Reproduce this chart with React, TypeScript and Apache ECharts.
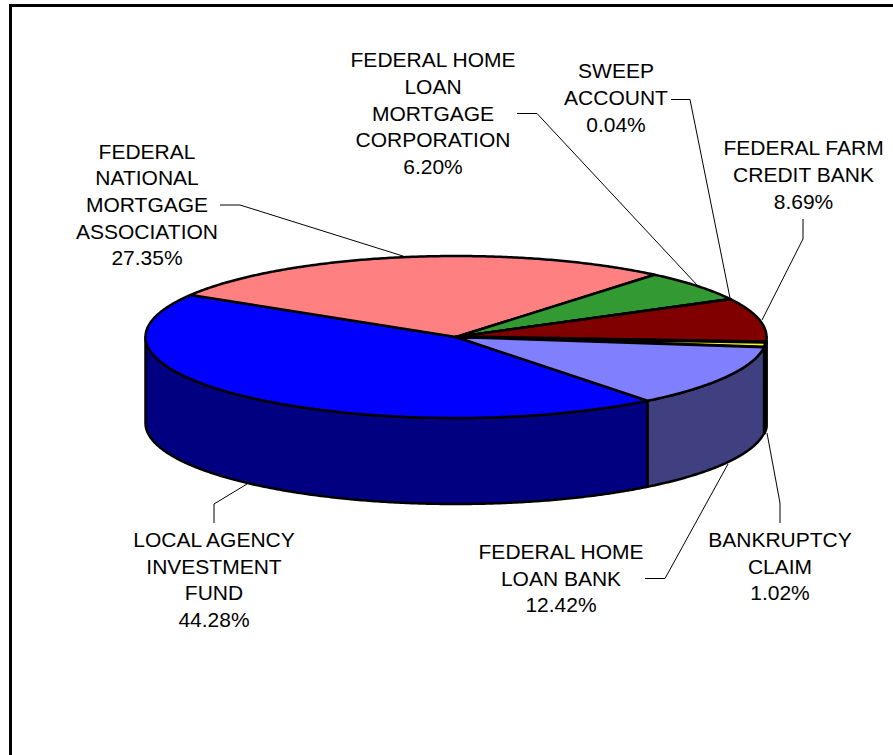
import React, { useEffect, useRef } from "react";
import * as echarts from "echarts";

const CATEGORY_LINES = [
  ["LOCAL AGENCY", "INVESTMENT", "FUND"],
  ["FEDERAL", "NATIONAL", "MORTGAGE", "ASSOCIATION"],
  ["FEDERAL HOME", "LOAN", "MORTGAGE", "CORPORATION"],
  ["SWEEP", "ACCOUNT"],
  ["FEDERAL FARM", "CREDIT BANK"],
  ["BANKRUPTCY", "CLAIM"],
  ["FEDERAL HOME", "LOAN BANK"],
];
const VALUES = [44.28, 27.35, 6.2, 0.04, 8.69, 1.02, 12.42];
const TOP_COLORS = ["#0000ff", "#ff8080", "#339933", "#00ffff", "#800000", "#ffff00", "#8080ff"];
const SIDE_COLORS = ["#000080", "#804040", "#1a4d1a", "#008080", "#400000", "#808000", "#404080"];
const EDGE_WIDTHS = [2.5, 2.5, 2.5, 2.5, 2.5, 3.5, 2.5];

// Layout of the pseudo-3D pie and of its labels
const CX = 456;
const CY = 337;
const RX = 310.5;
const RY = 81;
const DEPTH = 86;
const START_DEG = 51.9;

const LABEL_CENTERS = [
  [214, 579.5],
  [147, 204.5],
  [433, 113],
  [616, 97.5],
  [803.5, 174.5],
  [780, 566],
  [561, 578],
];
const LEADERS = [
  [[214, 523], [214, 504], [247, 484]],
  [[220, 205], [240, 205], [406, 257]],
  [[517, 113.5], [537, 113.5], [697, 285]],
  [[671, 99.5], [690, 99.5], [730, 298]],
  [[803, 219], [803, 239], [762, 320]],
  [[780, 523], [780, 503], [767, 433]],
  [[645, 578.5], [665, 578.5], [728, 464]],
];

const TOTAL = VALUES.reduce((a, b) => a + b, 0);
const sliceRange = (i: number): [number, number] => {
  const before = VALUES.slice(0, i).reduce((a, b) => a + b, 0);
  return [START_DEG + (before / TOTAL) * 360, START_DEG + ((before + VALUES[i]) / TOTAL) * 360];
};
const rim = (deg: number, dy = 0): number[] => {
  const t = (deg * Math.PI) / 180;
  return [CX + RX * Math.cos(t), CY + RY * Math.sin(t) + dy];
};
const arc = (a: number, b: number, dy = 0): number[][] => {
  const pts: number[][] = [];
  const n = Math.max(1, Math.ceil((b - a) / 0.5));
  for (let k = 0; k <= n; k++) pts.push(rim(a + ((b - a) * k) / n, dy));
  return pts;
};

const renderSide = (params: any, api: any) => {
  const i = params.dataIndex;
  const [a, b] = sliceRange(i);
  const children: any[] = [];
  [[0, 180], [360, 540]].forEach(([lo, hi]) => {
    const s = Math.max(a, lo);
    const e = Math.min(b, hi);
    if (e > s && api.value(0) > 0) {
      children.push({
        type: "polygon",
        shape: { points: [...arc(s, e), ...arc(s, e, DEPTH).reverse()] },
        style: { fill: SIDE_COLORS[i], stroke: "#000", lineWidth: EDGE_WIDTHS[i], lineJoin: "round" },
      });
    }
  });
  return { type: "group", children };
};

const renderTop = (params: any, api: any) => {
  const i = params.dataIndex;
  const [a, b] = sliceRange(i);
  return {
    type: "polygon",
    shape: { points: api.value(0) > 0 ? [[CX, CY], ...arc(a, b)] : [] },
    style: { fill: TOP_COLORS[i], stroke: "#000", lineWidth: EDGE_WIDTHS[i], lineJoin: "round" },
  };
};

export default function App() {
  const ref = useRef<HTMLDivElement>(null);
  useEffect(() => {
    const chart = echarts.init(ref.current!, undefined, { renderer: "svg" });
    const data = VALUES.map((v) => [v]);
    chart.setOption({
      animation: false,
      backgroundColor: "#ffffff",
      tooltip: { show: false },
      series: [
        { type: "custom", coordinateSystem: "none", silent: true, z: 1, renderItem: renderSide, data },
        { type: "custom", coordinateSystem: "none", silent: true, z: 2, renderItem: renderTop, data },
      ],
      graphic: [
        {
          type: "polyline",
          z: 5,
          shape: { points: [[10.5, 760], [10.5, 5.5], [900, 5.5]] },
          style: { fill: "none", stroke: "#000", lineWidth: 3 },
        },
        ...LEADERS.map((points) => ({
          type: "polyline",
          z: 5,
          shape: { points },
          style: { fill: "none", stroke: "#000", lineWidth: 1 },
        })),
        ...CATEGORY_LINES.map((lines, i) => ({
          type: "text",
          z: 6,
          x: LABEL_CENTERS[i][0],
          y: LABEL_CENTERS[i][1],
          style: {
            text: [...lines, `${VALUES[i].toFixed(2)}%`].join("\n"),
            fill: "#000",
            font: '21px "Liberation Sans", Arial, sans-serif',
            lineHeight: 26.6,
            align: "center",
            verticalAlign: "middle",
          },
        })),
      ],
    });
    return () => chart.dispose();
  }, []);
  return <div ref={ref} style={{ position: "absolute", left: 0, top: 0, width: 893, height: 755 }} />;
}
